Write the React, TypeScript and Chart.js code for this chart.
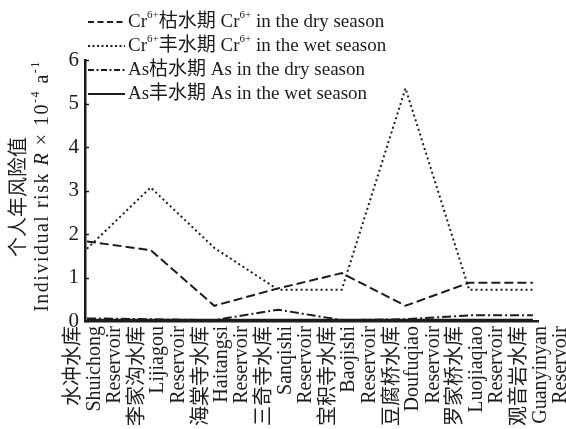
import { useEffect, useRef } from 'react';
import { Chart, registerables } from 'chart.js';

Chart.register(...registerables);

const categoriesZh = ['水冲水库', '李家沟水库', '海棠寺水库', '三奇寺水库', '宝积寺水库', '豆腐桥水库', '罗家桥水库', '观音岩水库'];
const categoriesEn = ['Shuichong', 'Lijiagou', 'Haitangsi', 'Sanqishi', 'Baojishi', 'Doufuqiao', 'Luojiaqiao', 'Guanyinyan'];
const categorySuffix = 'Reservoir';

const crDry = [1.83, 1.63, 0.35, 0.75, 1.1, 0.35, 0.88, 0.88];
const crWet = [1.66, 3.07, 1.68, 0.72, 0.72, 5.35, 0.72, 0.72];
const asDry = [0.06, 0.04, 0.02, 0.26, 0.02, 0.04, 0.13, 0.13];
const asWet = [0.03, 0.03, 0.03, 0.03, 0.03, 0.03, 0.03, 0.03];

const yTicks = [0, 1, 2, 3, 4, 5, 6];

const seriesNames = [
  'Cr6+枯水期 Cr6+ in the dry season',
  'Cr6+丰水期 Cr6+ in the wet season',
  'As枯水期 As in the dry season',
  'As丰水期 As in the wet season',
];

// rich legend text: [text, style]
const legendRich: [string, string][][] = [
  [['Cr', ''], ['6+', 'sup'], ['枯水期 Cr', ''], ['6+', 'sup'], [' in the dry season', '']],
  [['Cr', ''], ['6+', 'sup'], ['丰水期 Cr', ''], ['6+', 'sup'], [' in the wet season', '']],
  [['As枯水期 As in the dry season', '']],
  [['As丰水期 As in the wet season', '']],
];

const yTitleZh = '个人年风险值';
const yTitleEn: [string, string][] = [
  ['Individual risk ', ''],
  ['R', 'it'],
  [' × 10', ''],
  ['-4', 'sup'],
  [' a', ''],
  ['-1', 'sup'],
];

const FAMILY = '"Liberation Serif", "Noto Sans CJK SC", serif';
const INK = '#1c1c1c';

function fontFor(style: string, size: number) {
  if (style === 'sup') return `${Math.round(size * 0.6)}px ${FAMILY}`;
  if (style === 'it') return `italic ${size}px ${FAMILY}`;
  return `${size}px ${FAMILY}`;
}

function richWidth(ctx: CanvasRenderingContext2D, parts: [string, string][], size: number) {
  let w = 0;
  for (const [t, s] of parts) {
    ctx.font = fontFor(s, size);
    w += ctx.measureText(t).width;
  }
  return w;
}

function drawRich(ctx: CanvasRenderingContext2D, parts: [string, string][], x: number, y: number, size: number) {
  let cx = x;
  for (const [t, s] of parts) {
    ctx.font = fontFor(s, size);
    const dy = s === 'sup' ? -size * 0.38 : 0;
    ctx.fillText(t, cx, y + dy);
    cx += ctx.measureText(t).width;
  }
}

const dashes = [[9, 4], [2, 3], [9, 3, 2, 3], []];
const legendDashes = [[6, 3.5], [2, 2.5], [6, 2.5, 2, 2.5], []];

const decorPlugin = {
  id: 'decor',
  afterDraw(chart: any) {
    const ctx: CanvasRenderingContext2D = chart.ctx;
    const area = chart.chartArea;
    ctx.save();
    ctx.fillStyle = INK;
    ctx.strokeStyle = INK;

    // inner tick stubs on y axis
    const ys = chart.scales.y;
    ctx.lineWidth = 1.5;
    ctx.setLineDash([]);
    for (const v of yTicks) {
      const py = Math.round(ys.getPixelForValue(v)) + 0.5;
      ctx.beginPath();
      ctx.moveTo(area.left, py);
      ctx.lineTo(area.left + 4, py);
      ctx.stroke();
    }

    // legend
    const size = 19;
    chart.data.datasets.forEach((_ds: any, i: number) => {
      const y = 22 + 24 * i;
      ctx.lineWidth = 2;
      ctx.setLineDash(legendDashes[i]);
      ctx.beginPath();
      ctx.moveTo(88, y);
      ctx.lineTo(125, y);
      ctx.stroke();
      ctx.setLineDash([]);
      ctx.textBaseline = 'middle';
      ctx.textAlign = 'left';
      drawRich(ctx, legendRich[i], 128, y, size);
    });

    // y title
    const ts = 20;
    ctx.textBaseline = 'middle';
    ctx.save();
    ctx.translate(20, 197);
    ctx.rotate(-Math.PI / 2);
    ctx.font = fontFor('', ts);
    ctx.textAlign = 'center';
    ctx.fillText(yTitleZh, 0, 0);
    ctx.restore();

    ctx.save();
    ctx.translate(43, 186);
    ctx.rotate(-Math.PI / 2);
    ctx.textAlign = 'left';
    (ctx as any).letterSpacing = '1.5px';
    const w = richWidth(ctx, yTitleEn, ts);
    drawRich(ctx, yTitleEn, -w / 2, 0, ts);
    ctx.restore();

    ctx.restore();
  },
};

export default function App() {
  const ref = useRef<HTMLCanvasElement | null>(null);

  useEffect(() => {
    if (!ref.current) return;
    const toPts = (arr: number[]) => arr.map((v, i) => ({ x: i, y: v }));
    const allSeries = [crDry, crWet, asDry, asWet];
    const chart = new Chart(ref.current, {
      type: 'line',
      data: {
        datasets: allSeries.map((s, i) => ({
          label: seriesNames[i],
          data: toPts(s),
          borderColor: INK,
          borderWidth: 2,
          borderDash: dashes[i],
          pointRadius: 0,
          tension: 0,
          fill: false,
        })),
      },
      options: {
        responsive: false,
        animation: false,
        layout: { padding: { left: 55, top: 60, right: 28, bottom: 0 } },
        plugins: {
          legend: { display: false },
          tooltip: { enabled: false },
        },
        scales: {
          x: {
            type: 'linear',
            min: -0.03,
            max: 7.08,
            afterBuildTicks: (scale: any) => {
              scale.ticks = categoriesZh.map((_, i) => ({ value: i }));
            },
            afterFit: (scale: any) => {
              scale.height = 108;
              scale.paddingLeft = 0;
              scale.paddingRight = 0;
            },
            ticks: {
              autoSkip: false,
              minRotation: 90,
              maxRotation: 90,
              padding: 5,
              labelOffset: -13,
              color: INK,
              font: { family: FAMILY, size: 20, lineHeight: 1.02 },
              callback: (_v: any, i: number) => [categoriesZh[i], categoriesEn[i], categorySuffix],
            },
            grid: { display: true, drawOnChartArea: false, drawTicks: false },
            border: { display: true, color: INK, width: 2.5 },
          },
          y: {
            type: 'linear',
            min: 0,
            max: 6,
            afterBuildTicks: (scale: any) => {
              scale.ticks = yTicks.map((v) => ({ value: v }));
            },
            afterFit: (scale: any) => {
              scale.width = 30;
              scale.paddingTop = 0;
              scale.paddingBottom = 0;
            },
            ticks: {
              padding: 6,
              color: INK,
              font: { family: FAMILY, size: 21 },
            },
            grid: { display: true, drawOnChartArea: false, drawTicks: false },
            border: { display: true, color: INK, width: 2.5 },
          },
        },
      },
      plugins: [decorPlugin],
    } as any);
    return () => chart.destroy();
  }, []);

  return (
    <div style={{ position: 'absolute', left: 0, top: 0, width: 566, height: 429, background: '#fff' }}>
      <canvas ref={ref} width={566} height={429} style={{ display: 'block' }} />
    </div>
  );
}
